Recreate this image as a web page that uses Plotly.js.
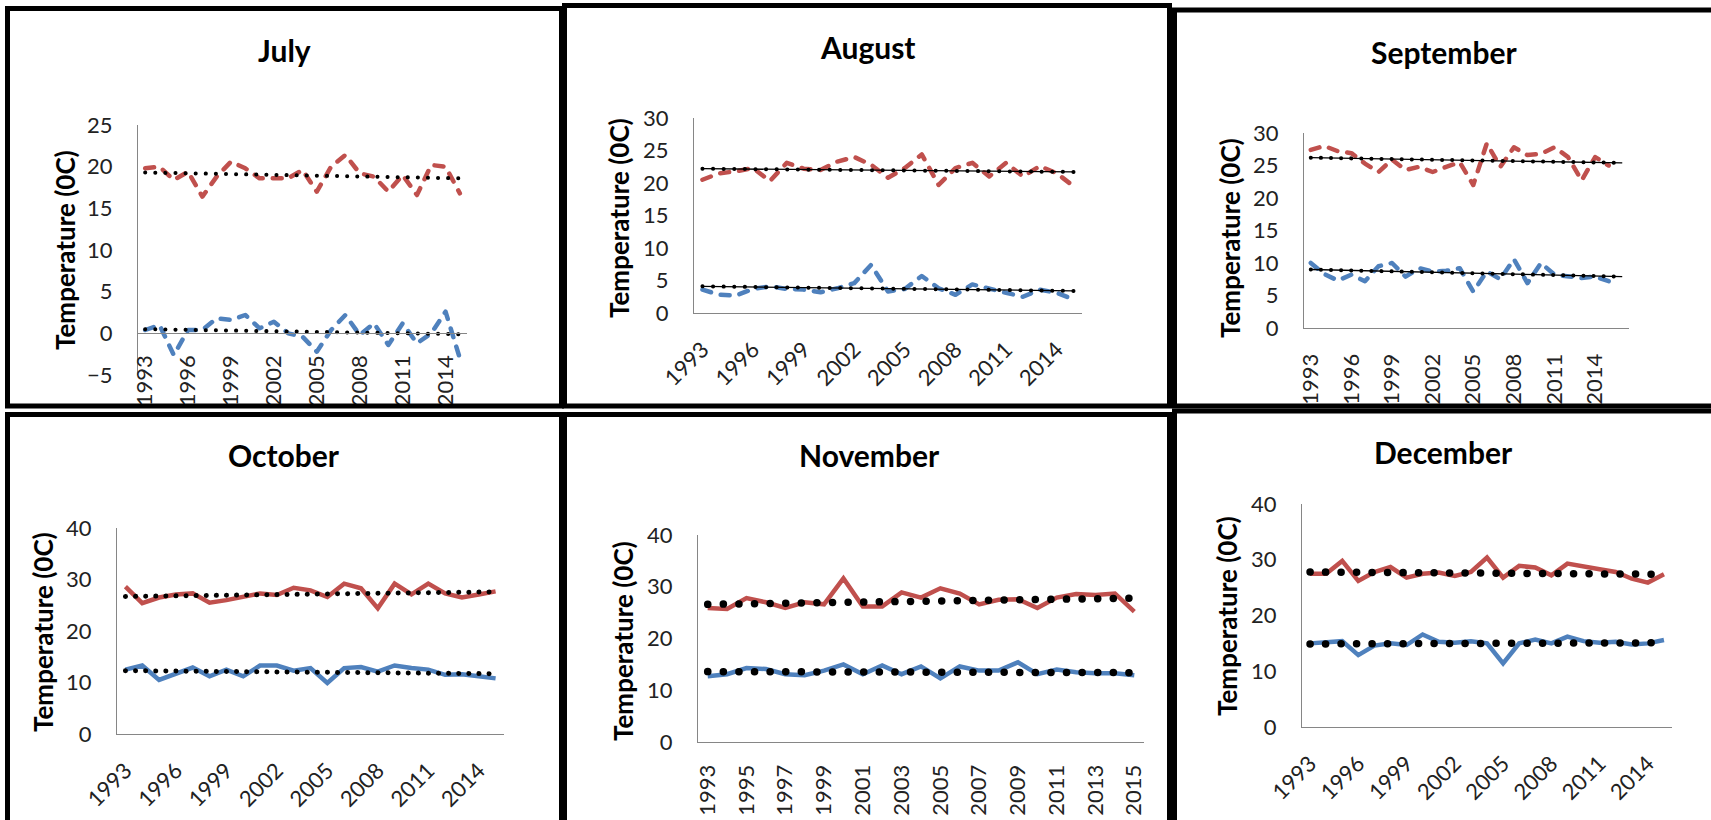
<!DOCTYPE html>
<html>
<head>
<meta charset="utf-8">
<script src="https://cdn.plot.ly/plotly-3.0.1.min.js"></script>
<style>
  html, body { margin: 0; padding: 0; background: #fff; }
  #chart { width: 1711px; height: 820px; }
</style>
</head>
<body>
<div id="chart"></div>
<script>
// ---------------- DATA ----------------
const years = [1993,1994,1995,1996,1997,1998,1999,2000,2001,2002,2003,2004,2005,2006,2007,2008,2009,2010,2011,2012,2013,2014,2015];
const ticksEvery3 = [1993,1996,1999,2002,2005,2008,2011,2014];
const ticksEvery2 = [1993,1995,1997,1999,2001,2003,2005,2007,2009,2011,2013,2015];

const monthNames = ["July","August","September","October","November","December"];
const yTitle = "Temperature (0C)";

const julyMax = [19.8,20.0,18.4,19.4,16.4,18.8,20.6,19.8,18.6,18.6,18.6,19.6,17.0,20.0,21.4,19.2,18.8,17.0,19.0,16.6,20.2,20.0,16.8];
const julyMin = [0.4,1.0,-2.6,0.4,0.4,1.8,1.6,2.2,0.6,1.4,0.0,-0.4,-2.2,0.4,2.2,-0.2,1.2,-1.4,1.2,-1.2,0.0,2.6,-3.0];
const augMax  = [20.5,21.5,21.8,22.3,20.3,23.1,22.2,22.0,23.3,24.0,22.8,20.8,22.3,24.4,19.7,22.3,23.1,21.0,23.1,21.0,22.6,21.5,19.5];
const augMin  = [3.6,2.8,2.7,3.7,4.1,3.7,3.6,3.2,3.8,4.6,7.4,3.3,3.7,5.7,3.8,2.8,4.4,3.7,3.1,2.5,3.6,3.1,2.1];
const sepMax  = [27.4,28.0,27.2,26.9,25.3,24.0,25.9,24.3,24.8,24.0,24.8,25.5,22.0,28.4,24.8,27.8,26.6,26.8,27.8,26.3,22.7,26.3,25.0];
const sepMin  = [10.0,8.3,7.3,8.2,7.2,9.5,10.0,7.9,9.2,8.7,8.8,9.2,5.6,8.7,7.5,10.6,6.9,10.0,8.2,7.9,7.7,7.9,7.2];
const octMax  = [28.6,25.4,26.5,27.1,27.3,25.5,26.0,26.6,27.3,27.0,28.4,27.9,26.6,29.2,28.3,24.4,29.2,27.1,29.2,27.3,26.5,27.1,27.7];
const octMin  = [12.5,13.3,10.5,11.8,12.9,11.2,12.5,11.2,13.3,13.3,12.3,12.8,9.9,12.8,13.0,12.1,13.3,12.8,12.5,11.5,11.6,11.2,10.8];
const novMax  = [25.9,25.7,27.8,27.0,25.9,27.0,26.6,31.6,26.2,26.2,28.9,27.9,29.7,28.7,26.6,27.5,27.6,25.9,27.9,28.6,28.4,28.7,25.2];
const novMin  = [12.7,13.1,14.3,14.1,13.1,12.9,13.8,15.0,13.1,14.8,13.1,14.6,12.3,14.6,13.8,13.8,15.4,13.1,14.0,13.5,13.3,13.3,12.9];
const decMax  = [27.5,27.5,29.8,26.2,27.8,28.7,26.8,27.5,27.7,27.1,27.8,30.4,26.8,28.9,28.6,27.2,29.3,28.7,28.3,27.8,26.6,25.9,27.4];
const decMin  = [15.0,15.1,15.4,12.9,14.6,15.0,14.7,16.6,15.3,15.1,15.4,15.0,11.4,15.0,15.7,15.0,16.2,15.4,15.1,15.3,14.8,15.0,15.6];

// Trend lines: start / end values
const trendYears    = [1993, 2015];
const sepTrendYears = [1993, 2016];
const julyTrendMax = [19.3, 18.6], julyTrendMin = [0.5, -0.1];
const augTrendMax  = [22.2, 21.7], augTrendMin  = [4.1, 3.4];
const sepTrendMax  = [26.2, 25.4], sepTrendMin  = [9.0, 7.9];
const octTrendMax  = [26.7, 27.6], octTrendMin  = [12.3, 11.7];
const novTrendMax  = [26.6, 27.8], novTrendMin  = [13.6, 13.4];
const decTrendMax  = [27.8, 27.4], decTrendMin  = [14.9, 15.1];

// ---------------- LAYOUT / STYLE ----------------
const W = 1711, H = 820;
const PX = x => x / W;
const PY = y => 1 - y / H;
const RED = "#C0504D", BLUE = "#4F81BD";
const FONT = "Lato, 'Open Sans', 'DejaVu Sans', sans-serif";
const AXIS_COLOR = "#868686";

const panels = [
  { title: monthNames[0], max: julyMax, min: julyMin, tYears: trendYears, tMax: julyTrendMax, tMin: julyTrendMin,
    box: {l:138, r:467, t:125, b:375}, yr:[-5,25], dtick:5, xr:[1992.5,2015.5], ticks: ticksEvery3, angle:-90, xStand:12,
    xAtZero:true, titlePos:[284,50], yTitlePos:[65,250], border:[7.5,8.5,561.5,406],
    dashed:true, trendSolid:false, dotW:4, dotGap:10 },
  { title: monthNames[1], max: augMax, min: augMin, tYears: trendYears, tMax: augTrendMax, tMin: augTrendMin,
    box: {l:694, r:1082, t:118, b:313}, yr:[0,30], dtick:5, xr:[1992.5,2015.5], ticks: ticksEvery3, angle:-45, xStand:14,
    xAtZero:false, titlePos:[868,47], yTitlePos:[619,218], border:[564.5,5.5,1169.5,406],
    dashed:true, trendSolid:true, dotW:4, dotGap:10.5 },
  { title: monthNames[2], max: sepMax, min: sepMin, tYears: sepTrendYears, tMax: sepTrendMax, tMin: sepTrendMin,
    box: {l:1304, r:1629, t:133, b:328}, yr:[0,30], dtick:5, xr:[1992.5,2016.5], ticks: ticksEvery3, angle:-90, xStand:16,
    xAtZero:false, titlePos:[1444,52], yTitlePos:[1230,238], border:[1174.5,10,1716,406],
    dashed:true, trendSolid:true, dotW:4, dotGap:10 },
  { title: monthNames[3], max: octMax, min: octMin, tYears: trendYears, tMax: octTrendMax, tMin: octTrendMin,
    box: {l:117, r:504, t:528, b:734}, yr:[0,40], dtick:10, xr:[1992.5,2015.5], ticks: ticksEvery3, angle:-45, xStand:14,
    xAtZero:false, titlePos:[284,455], yTitlePos:[43,632], border:[7.5,414.5,561.5,830],
    dashed:false, trendSolid:false, dotW:5, dotGap:10 },
  { title: monthNames[4], max: novMax, min: novMin, tYears: trendYears, tMax: novTrendMax, tMin: novTrendMin,
    box: {l:698, r:1144, t:535, b:742}, yr:[0,40], dtick:10, xr:[1992.5,2015.5], ticks: ticksEvery2, angle:-90, xStand:13,
    xAtZero:false, titlePos:[869,455], yTitlePos:[623,641], border:[564.5,414.5,1169.5,830],
    dashed:false, trendSolid:false, dotW:7.5, dotGap:15.5 },
  { title: monthNames[5], max: decMax, min: decMin, tYears: trendYears, tMax: decTrendMax, tMin: decTrendMin,
    box: {l:1302, r:1672, t:504, b:727}, yr:[0,40], dtick:10, xr:[1992.5,2015.5], ticks: ticksEvery3, angle:-45, xStand:14,
    xAtZero:false, titlePos:[1443,452], yTitlePos:[1227,616], border:[1174.5,411,1716,830],
    dashed:false, trendSolid:false, dotW:7.5, dotGap:15.4 }
];

const traces = [];
const roundCapUids = [];
const layout = {
  width: W, height: H,
  margin: {l:0, r:0, t:0, b:0},
  paper_bgcolor: "#fff", plot_bgcolor: "rgba(0,0,0,0)",
  showlegend: false,
  font: {family: FONT, color: "#222"},
  annotations: [], shapes: []
};

let uidCount = 0;
function addTrace(t, roundCap) {
  t.uid = "rc" + (uidCount++);
  if (roundCap) roundCapUids.push(t.uid);
  traces.push(t);
}

panels.forEach((p, i) => {
  const s = i === 0 ? "" : String(i + 1);
  const xa = "x" + s, ya = "y" + s;
  const dataDash = p.dashed ? "9px,10px" : "solid";

  addTrace({x: years, y: p.max, xaxis: xa, yaxis: ya, mode: "lines", hoverinfo: "skip",
            line: {color: RED, width: 4.5, dash: dataDash}}, p.dashed);
  addTrace({x: years, y: p.min, xaxis: xa, yaxis: ya, mode: "lines", hoverinfo: "skip",
            line: {color: BLUE, width: 4.5, dash: dataDash}}, p.dashed);
  [p.tMax, p.tMin].forEach(t => {
    if (p.trendSolid) {
      addTrace({x: p.tYears, y: t, xaxis: xa, yaxis: ya, mode: "lines", hoverinfo: "skip",
                line: {color: "#000", width: 1.3}}, false);
    }
    addTrace({x: p.tYears, y: t, xaxis: xa, yaxis: ya, mode: "lines", hoverinfo: "skip",
              line: {color: "#000", width: p.dotW, dash: "0.1px," + p.dotGap + "px"}}, true);
  });

  const xAxis = {
    domain: [PX(p.box.l), PX(p.box.r)], range: p.xr, showgrid: false, zeroline: false,
    showline: true, linecolor: AXIS_COLOR, linewidth: 1,
    tickmode: "array", tickvals: p.ticks, ticktext: p.ticks.map(String),
    tickangle: p.angle, ticks: "", ticklabelstandoff: p.xStand,
    tickfont: {family: FONT, size: 22, color: "#222"}, fixedrange: true
  };
  if (p.xAtZero) {
    const yZeroPx = p.box.b - (0 - p.yr[0]) / (p.yr[1] - p.yr[0]) * (p.box.b - p.box.t);
    xAxis.anchor = "free";
    xAxis.position = PY(yZeroPx);
  } else {
    xAxis.anchor = ya;
  }
  layout["xaxis" + s] = xAxis;
  layout["yaxis" + s] = {
    domain: [PY(p.box.b), PY(p.box.t)], range: p.yr, dtick: p.dtick, tick0: 0,
    showgrid: false, zeroline: false, showline: true, linecolor: AXIS_COLOR, linewidth: 1,
    ticks: "", ticklabelstandoff: 20, anchor: xa,
    tickfont: {family: FONT, size: 22, color: "#222"}, fixedrange: true
  };

  layout.annotations.push({
    text: "<b>" + p.title + "</b>", xref: "paper", yref: "paper",
    x: PX(p.titlePos[0]), y: PY(p.titlePos[1]), xanchor: "center", yanchor: "middle",
    showarrow: false, font: {family: FONT, size: 30, color: "#000"}
  });
  layout.annotations.push({
    text: "<b>" + yTitle + "</b>", xref: "paper", yref: "paper", textangle: -90,
    x: PX(p.yTitlePos[0]), y: PY(p.yTitlePos[1]), xanchor: "center", yanchor: "middle",
    showarrow: false, font: {family: FONT, size: 26, color: "#000"}
  });

  const b = p.border;
  layout.shapes.push({
    type: "rect", xref: "paper", yref: "paper",
    x0: PX(b[0]), x1: PX(b[2]), y0: PY(b[1]), y1: PY(b[3]),
    line: {color: "#000", width: 5}, fillcolor: "rgba(0,0,0,0)"
  });
});

Plotly.newPlot("chart", traces, layout, {displayModeBar: false, staticPlot: true}).then(() => {
  roundCapUids.forEach(uid => {
    document.querySelectorAll(".trace" + uid + " path.js-line").forEach(el => {
      el.style.strokeLinecap = "round";
      el.style.strokeLinejoin = "round";
    });
  });
});
</script>
</body>
</html>
